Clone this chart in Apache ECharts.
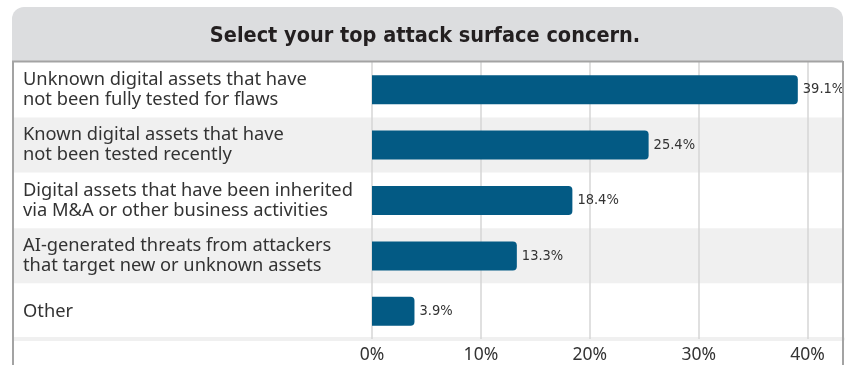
<!DOCTYPE html>
<html>
<head>
<meta charset="utf-8">
<script src="https://cdn.jsdelivr.net/npm/echarts@6/dist/echarts.min.js"></script>
<style>
  html, body { margin: 0; padding: 0; background: #fff; }
  #chart { width: 850px; height: 365px; }
</style>
</head>
<body>
<div id="chart"></div>
<script>
const titleText = 'Select your top attack surface concern.'
const categories = [
    'Unknown digital assets that have\nnot been fully tested for flaws',
    'Known digital assets that have\nnot been tested recently',
    'Digital assets that have been inherited\nvia M&A or other business activities',
    'AI-generated threats from attackers\nthat target new or unknown assets',
    'Other'
]
const values = [39.1, 25.4, 18.4, 13.3, 3.9]
const xTicks = [0, 10, 20, 30, 40]

const labelFont = "'Noto Sans', 'Open Sans', sans-serif"
const narrowFont = "'Liberation Sans Narrow', 'DejaVu Sans Condensed', sans-serif"
const borderColor = '#a3a3a3'

const chart = echarts.init(document.getElementById('chart'), null, { renderer: 'canvas' })

const option = {
    animation: false,
    backgroundColor: '#fff',
    title: {
        text: titleText,
        left: 'center',
        top: 20,
        textStyle: {
            fontFamily: narrowFont,
            fontWeight: 'bold',
            fontSize: 21.5,
            color: '#231f20'
        }
    },
    graphic: [
        // header box
        {
            type: 'rect',
            z: -10,
            shape: { x: 12, y: 7, width: 831, height: 54, r: [12, 12, 0, 0] },
            style: { fill: '#dcdddf' }
        },
        // table frame
        {
            type: 'line',
            z: 10,
            shape: { x1: 12, y1: 61.5, x2: 843, y2: 61.5 },
            style: { stroke: borderColor, lineWidth: 2 }
        },
        {
            type: 'line',
            z: 10,
            shape: { x1: 13, y1: 61, x2: 13, y2: 365 },
            style: { stroke: borderColor, lineWidth: 2 }
        },
        {
            type: 'line',
            z: 10,
            shape: { x1: 843, y1: 61, x2: 843, y2: 365 },
            style: { stroke: borderColor, lineWidth: 2 }
        }
    ],
    grid: [
        { left: 14, right: 7, top: 62, bottom: 26 },
        { left: 372, right: 7, top: 62, bottom: 26 }
    ],
    xAxis: [
        {
            gridIndex: 0,
            type: 'value',
            z: 0,
            axisLabel: { show: false },
            axisTick: { show: false },
            splitLine: { show: false },
            axisLine: { show: true, lineStyle: { color: '#f0f0f0', width: 4 } }
        },
        {
            gridIndex: 1,
            type: 'value',
            z: 1,
            min: 0,
            max: 43.25,
            interval: 10,
            axisLine: { show: false },
            axisTick: { show: false },
            splitLine: { show: true, lineStyle: { color: '#d6d6d6', width: 1.5 } },
            axisLabel: {
                margin: 7,
                fontFamily: labelFont,
                fontSize: 17.5,
                color: '#333',
                formatter: v => (xTicks.includes(v) ? v + '%' : '')
            }
        }
    ],
    yAxis: [
        {
            gridIndex: 0,
            type: 'category',
            data: categories,
            inverse: true,
            z: 0,
            axisLine: { show: false },
            axisTick: { show: false },
            splitLine: { show: false },
            splitArea: { show: true, areaStyle: { color: ['#ffffff', '#f0f0f0'] } },
            axisLabel: {
                inside: true,
                margin: 9,
                fontFamily: labelFont,
                fontSize: 18.3,
                lineHeight: 20,
                color: '#333'
            }
        },
        {
            gridIndex: 1,
            type: 'category',
            data: categories,
            inverse: true,
            show: false
        }
    ],
    series: [
        {
            type: 'bar',
            xAxisIndex: 1,
            yAxisIndex: 1,
            data: values,
            barWidth: 29,
            z: 5,
            itemStyle: { color: '#035a84', borderRadius: [0, 4, 4, 0] },
            label: {
                show: true,
                position: 'right',
                distance: 5,
                formatter: '{c}%',
                fontFamily: narrowFont,
                fontSize: 14.5,
                color: '#333'
            }
        }
    ]
}

chart.setOption(option)
</script>
</body>
</html>
